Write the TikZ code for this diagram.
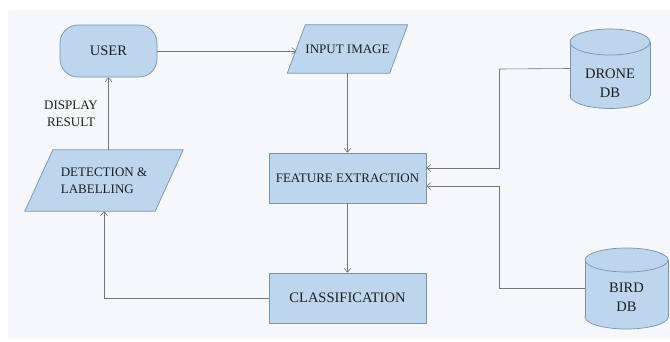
\documentclass[tikz,border=0pt]{standalone}
\usepackage{fontspec}
\setmainfont{Liberation Serif}
\usetikzlibrary{arrows.meta,calc}
\definecolor{bgc}{HTML}{F5F7FA}
\definecolor{boxfill}{HTML}{BDD6EE}
\definecolor{boxline}{HTML}{7A93AE}
\definecolor{linec}{HTML}{767676}
\definecolor{txt}{HTML}{1E1E1E}
\tikzset{
  shapeline/.style={draw=boxline, fill=boxfill, line width=0.7pt},
  rectbox/.style={shapeline, rectangle, minimum width=157pt, minimum height=50pt, inner sep=0pt, text=txt},
  paratext/.style={rectangle, inner sep=0pt, text=txt, align=center},
  small/.style={font=\fontsize{13}{17}\selectfont},
  big/.style={font=\fontsize{14.5}{19}\selectfont},
  conn/.style={draw=linec, line width=0.6pt},
  arr/.style={conn, -{Straight Barb[length=4pt,width=7pt,line width=0.6pt]}},
}
\begin{document}
\begin{tikzpicture}[x=1pt,y=-1pt]
\useasboundingbox (0,0) rectangle (670,341);
\fill[white] (0,0) rectangle (670,341);
\fill[bgc] (8,10) rectangle (670,339);

% USER
\node[shapeline, rounded corners=18pt, minimum width=97pt, minimum height=52pt, inner sep=0pt, text=txt, big] (user) at (108.5,51) {USER};

% INPUT IMAGE parallelogram
\node[paratext, minimum width=102pt, minimum height=48pt, small] (input) at (347.5,49) {};
\draw[shapeline] ([xshift=-9pt]input.south west) -- ([xshift=9pt]input.north west) -- ([xshift=9pt]input.north east) -- ([xshift=-9pt]input.south east) -- cycle;
\node[paratext, small] (inputtext) at (input.center) {INPUT IMAGE};

% FEATURE EXTRACTION
\node[rectbox, small] (feature) at (347.5,178) {FEATURE EXTRACTION};

% CLASSIFICATION
\node[rectbox, big] (class) at (347.5,298) {CLASSIFICATION};

% DETECTION & LABELLING parallelogram
\node[paratext, minimum width=130pt, minimum height=61pt] (detect) at (104,180.5) {};
\draw[shapeline] ([xshift=-14pt]detect.south west) -- ([xshift=14pt]detect.north west) -- ([xshift=14pt]detect.north east) -- ([xshift=-14pt]detect.south east) -- cycle;
\node[paratext, small, align=left] (detecttext) at (detect.center) {DETECTION \&\\LABELLING};

% DISPLAY RESULT label
\node[paratext, small] (display) at (71,114) {DISPLAY\\RESULT};

% DRONE DB cylinder
\node[rectangle, inner sep=0pt, minimum width=80pt, minimum height=79pt] (drone) at (610,68.5) {};
\fill[boxfill, draw=boxline, line width=0.7pt] (610,95.5) ellipse [x radius=40, y radius=13];
\fill[boxfill] (570,42) rectangle (650,95.5);
\draw[boxline, line width=0.7pt] (570,42) -- (570,95.5) (650,42) -- (650,95.5);
\fill[boxfill, draw=boxline, line width=0.7pt] (610,42) ellipse [x radius=40, y radius=13];
\node[paratext, big] (dronetext) at (610,83) {DRONE\\DB};

% BIRD DB cylinder
\node[rectangle, inner sep=0pt, minimum width=83pt, minimum height=82pt] (bird) at (626.5,288) {};
\fill[boxfill, draw=boxline, line width=0.7pt] (626.5,317) ellipse [x radius=41.5, y radius=12];
\fill[boxfill] (585,260) rectangle (668,317);
\draw[boxline, line width=0.7pt] (585,260) -- (585,317) (668,260) -- (668,317);
\fill[boxfill, draw=boxline, line width=0.7pt] (626.5,260) ellipse [x radius=41.5, y radius=12];
\node[paratext, big] (birdtext) at (626.5,297) {BIRD\\DB};

% junction coordinates
\coordinate (jd) at (499,69);
\coordinate (jb) at (499,288);

% connectors
\draw[arr] (user.east) -- (user.east -| input.west);
\draw[arr] (input.south) -- (feature.north);
\draw[arr] (feature.south) -- (class.north);
\draw[arr] (class.west) -| (detect.south);
\draw[arr] (user.south |- detect.north) -- (user.south);
\draw[conn] (drone.west) -- (jd);
\draw[arr] (jd) |- ([yshift=10pt]feature.east);
\draw[conn] (bird.west) -- (jb);
\draw[arr] (jb) |- ([yshift=-8pt]feature.east);
\end{tikzpicture}
\end{document}
